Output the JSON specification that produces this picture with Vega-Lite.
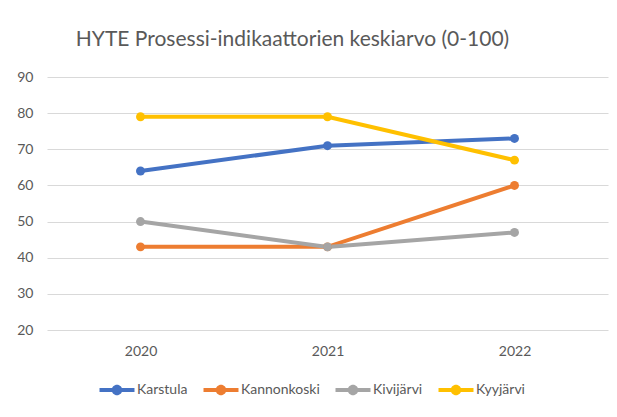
{
  "$schema": "https://vega.github.io/schema/vega-lite/v6.json",
  "autosize": "none",
  "width": 561,
  "height": 253,
  "padding": {"left": 47, "top": 77, "right": 9, "bottom": 87},
  "background": "white",
  "title": {
    "text": "HYTE Prosessi-indikaattorien keskiarvo (0-100)",
    "font": "Lato",
    "fontSize": 21,
    "fontWeight": "normal",
    "color": "#595959",
    "anchor": "middle",
    "dx": -35,
    "offset": 20
  },
  "data": {
    "values": [
      {"year": "2020", "series": "Karstula", "value": 64},
      {"year": "2021", "series": "Karstula", "value": 71},
      {"year": "2022", "series": "Karstula", "value": 73},
      {"year": "2020", "series": "Kannonkoski", "value": 43},
      {"year": "2021", "series": "Kannonkoski", "value": 43},
      {"year": "2022", "series": "Kannonkoski", "value": 60},
      {"year": "2020", "series": "Kivijärvi", "value": 50},
      {"year": "2021", "series": "Kivijärvi", "value": 43},
      {"year": "2022", "series": "Kivijärvi", "value": 47},
      {"year": "2020", "series": "Kyyjärvi", "value": 79},
      {"year": "2021", "series": "Kyyjärvi", "value": 79},
      {"year": "2022", "series": "Kyyjärvi", "value": 67}
    ]
  },
  "encoding": {
    "x": {
      "field": "year",
      "type": "ordinal",
      "scale": {"type": "point", "padding": 0.5},
      "axis": {
        "title": null,
        "labelAngle": 0,
        "labelFont": "Lato",
        "labelFontSize": 14,
        "labelColor": "#595959",
        "labelPadding": 14,
        "domain": false,
        "ticks": false,
        "grid": false
      }
    },
    "y": {
      "field": "value",
      "type": "quantitative",
      "scale": {"domain": [20, 90], "nice": false, "zero": false},
      "axis": {
        "title": null,
        "values": [20, 30, 40, 50, 60, 70, 80, 90],
        "labelFont": "Lato",
        "labelFontSize": 14,
        "labelColor": "#595959",
        "labelPadding": 14,
        "domain": false,
        "ticks": false,
        "grid": true,
        "gridColor": "#d9d9d9",
        "gridWidth": 1
      }
    },
    "color": {
      "field": "series",
      "type": "nominal",
      "scale": {
        "domain": ["Karstula", "Kannonkoski", "Kivijärvi", "Kyyjärvi"],
        "range": ["#4472C4", "#ED7D31", "#A5A5A5", "#FFC000"]
      },
      "legend": {
        "title": null,
        "orient": "none",
        "direction": "horizontal",
        "legendX": 61,
        "legendY": 304,
        "labelFont": "Lato",
        "labelFontSize": 14,
        "labelColor": "#595959",
        "labelOffset": 11,
        "columnPadding": 15,
        "symbolType": "M-2,-0.23L2,-0.23L2,0.23L-2,0.23Z M-0.6,0A0.6,0.6 0 1,1 0.6,0A0.6,0.6 0 1,1 -0.6,0Z",
        "symbolSize": 306,
        "symbolStrokeWidth": 0,
        "symbolOpacity": 1
      }
    }
  },
  "layer": [
    {"mark": {"type": "line", "strokeWidth": 4, "strokeCap": "round"}},
    {"mark": {"type": "circle", "size": 80, "opacity": 1}}
  ],
  "config": {"view": {"stroke": null}}
}
